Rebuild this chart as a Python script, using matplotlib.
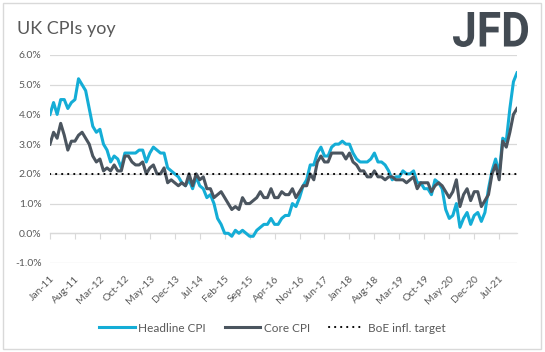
import matplotlib
matplotlib.use("Agg")
import matplotlib.pyplot as plt
from matplotlib.patches import Rectangle, PathPatch
from matplotlib.textpath import TextPath
from matplotlib.font_manager import FontProperties
from matplotlib.transforms import Affine2D
from matplotlib.ticker import FuncFormatter

# monthly data Jan-11 .. Dec-21 (yoy %)
months = [f"{m}-{y:02d}" for y in range(11, 22)
          for m in ["Jan", "Feb", "Mar", "Apr", "May", "Jun",
                    "Jul", "Aug", "Sep", "Oct", "Nov", "Dec"]]

headline = [4.0, 4.4, 4.0, 4.5, 4.5, 4.2, 4.4, 4.5, 5.2, 5.0, 4.8, 4.2,
            3.6, 3.4, 3.5, 3.0, 2.8, 2.4, 2.6, 2.5, 2.2, 2.7, 2.7, 2.7,
            2.7, 2.8, 2.8, 2.4, 2.7, 2.9, 2.8, 2.7, 2.7, 2.2, 2.1, 2.0,
            1.9, 1.7, 1.6, 1.8, 1.5, 1.9, 1.6, 1.5, 1.2, 1.3, 1.0, 0.5,
            0.3, 0.0, 0.0, -0.1, 0.1, 0.0, 0.1, 0.0, -0.1, -0.1, 0.1, 0.2,
            0.3, 0.3, 0.5, 0.3, 0.3, 0.5, 0.6, 0.6, 1.0, 0.9, 1.2, 1.6,
            1.8, 2.3, 2.3, 2.7, 2.9, 2.6, 2.6, 2.9, 3.0, 3.0, 3.1, 3.0,
            3.0, 2.7, 2.5, 2.4, 2.4, 2.4, 2.5, 2.7, 2.4, 2.4, 2.3, 2.1,
            1.8, 1.9, 1.9, 2.1, 2.0, 2.0, 2.1, 1.7, 1.7, 1.5, 1.5, 1.3,
            1.8, 1.7, 1.5, 0.8, 0.5, 0.6, 1.0, 0.2, 0.5, 0.7, 0.3, 0.6,
            0.7, 0.4, 0.7, 1.5, 2.1, 2.5, 2.0, 3.2, 3.1, 4.2, 5.1, 5.4]

core = [3.0, 3.4, 3.2, 3.7, 3.3, 2.8, 3.1, 3.1, 3.3, 3.4, 3.2, 3.0,
        2.6, 2.4, 2.5, 2.1, 2.2, 2.1, 2.3, 2.1, 2.1, 2.6, 2.6, 2.4,
        2.3, 2.3, 2.4, 2.0, 2.2, 2.3, 2.0, 2.0, 2.2, 1.7, 1.8, 1.7,
        1.6, 1.7, 1.6, 2.0, 1.6, 2.0, 1.8, 1.9, 1.5, 1.5, 1.2, 1.3,
        1.4, 1.2, 1.0, 0.8, 0.9, 0.8, 1.2, 1.0, 1.0, 1.1, 1.2, 1.4,
        1.2, 1.2, 1.5, 1.2, 1.2, 1.4, 1.3, 1.3, 1.5, 1.2, 1.4, 1.6,
        1.6, 2.0, 1.8, 2.4, 2.6, 2.4, 2.4, 2.7, 2.7, 2.7, 2.7, 2.5,
        2.7, 2.4, 2.3, 2.1, 2.1, 1.9, 1.9, 2.1, 1.9, 1.9, 1.8, 1.9,
        1.9, 1.8, 1.8, 1.8, 1.7, 1.8, 1.9, 1.5, 1.7, 1.7, 1.7, 1.4,
        1.6, 1.7, 1.6, 1.4, 1.2, 1.4, 1.8, 0.9, 1.3, 1.5, 1.1, 1.4,
        1.4, 0.9, 1.1, 1.3, 2.0, 2.3, 1.8, 3.1, 2.9, 3.4, 4.0, 4.2]

target = [2.0] * len(months)

blue = "#14ADD6"
dark = "#4B555F"
grey_txt = "#595959"
font = "Lato"

fig = plt.figure(figsize=(5.45, 3.52), dpi=100)
ax = fig.add_axes([50 / 545, 89 / 352, 467 / 545, 208 / 352])

x = list(range(len(months)))
ax.plot(x, headline, color=blue, lw=2.2, label="Headline CPI", zorder=3)
ax.plot(x, core, color=dark, lw=2.2, label="Core CPI", zorder=4)
ax.plot(x, target, color="black", lw=1.5, ls=(0, (0.1, 2.8)),
        dash_capstyle="round", label="BoE infl. target", zorder=5)

ax.set_xlim(0, len(months) - 1)
ax.set_ylim(-1, 6)
ax.set_yticks(range(-1, 7))
ax.yaxis.set_major_formatter(FuncFormatter(lambda v, p: f"{v:.1f}%"))
ax.grid(axis="y", color="#D9D9D9", lw=0.9)
ax.set_axisbelow(True)
for s in ax.spines.values():
    s.set_visible(False)
ax.tick_params(axis="y", length=0, labelsize=7.5, labelcolor=grey_txt, pad=6)

ticks = x[::7]
ax.set_xticks(ticks)
ax.set_xticklabels(months[::7], rotation=45, ha="right",
                   rotation_mode="anchor", fontsize=7.5, color=grey_txt,
                   family=font)
ax.tick_params(axis="x", length=0, pad=8)
for lab in ax.get_yticklabels():
    lab.set_family(font)

# category axis line with tick marks at 0%
sec = ax.secondary_xaxis(1 / 7)
sec.set_xticks(ticks)
sec.set_xticklabels([])
sec.tick_params(axis="x", length=4, color="#D9D9D9", direction="out")
sec.spines["bottom"].set_color("#D9D9D9")
sec.spines["bottom"].set_linewidth(0.9)

leg = fig.legend(loc="center", bbox_to_anchor=(0.5, 0.068), ncol=3,
                 frameon=False, handlelength=3.0, columnspacing=1.6,
                 handletextpad=0.3, prop={"family": font, "size": 8.5})
for t in leg.get_texts():
    t.set_color(grey_txt)

fig.text(17 / 545, 1 - 34 / 352, "UK CPIs yoy", fontsize=13, color=grey_txt,
         family=font)

# logo: text path squeezed into the logo box (pixels)
tp = TextPath((0, 0), "JFD", size=40,
              prop=FontProperties(family="Roboto", weight="bold"))
bb = tp.get_extents()
x0, x1, y0, y1 = 453, 528, 352 - 47, 352 - 12
tr = (Affine2D().translate(-bb.x0, -bb.y0)
      .scale((x1 - x0) / bb.width, (y1 - y0) / bb.height)
      .translate(x0, y0) + fig.dpi_scale_trans.inverted() + fig.dpi_scale_trans)
fig.patches.append(PathPatch(tp, transform=tr, fc="#434B53", ec="none"))

fig.patches.append(Rectangle((3 / 545, 3 / 352), 538 / 545, 346 / 352,
                             transform=fig.transFigure, fill=False,
                             ec="#D9D9D9", lw=1))

fig.savefig("out.png", dpi=100)
